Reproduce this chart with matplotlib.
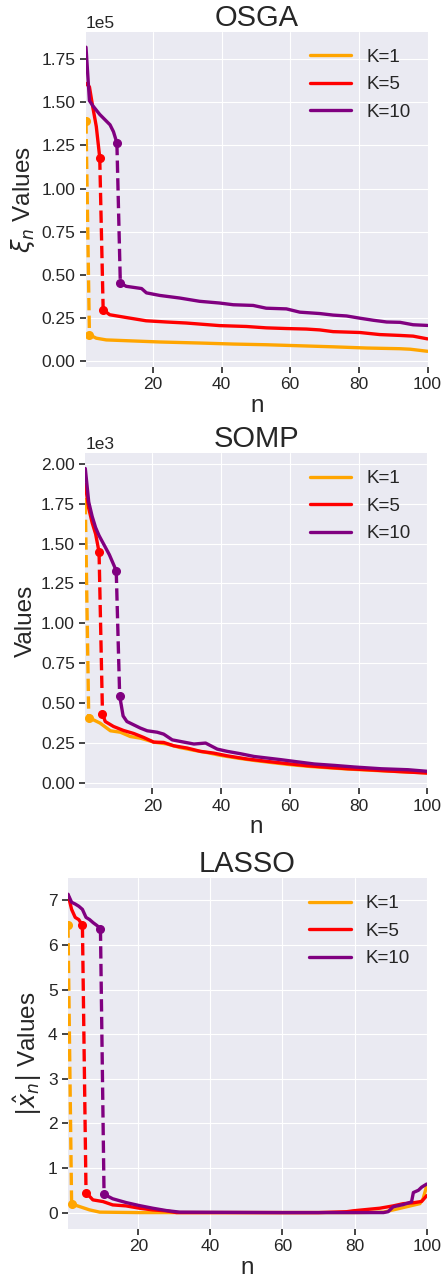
import matplotlib
matplotlib.use('Agg')
import matplotlib.pyplot as plt

plt.style.use('seaborn-v0_8-darkgrid')
plt.rcParams['font.family'] = ['Liberation Sans', 'DejaVu Sans']
plt.rcParams['xtick.bottom'] = True
plt.rcParams['ytick.left'] = True
plt.rcParams['xtick.major.size'] = 4
plt.rcParams['ytick.major.size'] = 4
plt.rcParams['xtick.major.width'] = 1.2
plt.rcParams['ytick.major.width'] = 1.2
plt.rcParams['xtick.color'] = '.15'
plt.rcParams['ytick.color'] = '.15'

labels = ['K=1', 'K=5', 'K=10']
colors = ['orange', 'red', 'purple']
ks = [1, 5, 10]

# OSGA (units of 1e5)
osga_k1_head = [1.39]
osga_k1_tail_x = [1.5, 3.5, 6.4, 14.2, 22, 33.6, 43.4, 53, 62.8, 72.5, 82.2, 92, 95, 100]
osga_k1_tail_y = [0.152, 0.132, 0.122, 0.116, 0.110, 0.104, 0.098, 0.094, 0.088, 0.082,
                  0.075, 0.071, 0.068, 0.056]
osga_k5_head = [1.61, 1.59, 1.47, 1.36, 1.18]
osga_k5_tail_x = [5.5, 7.4, 12.2, 18, 23.9, 29.7, 33.6, 39.4, 47.2, 53, 58.9, 64.7, 68.6,
                  72.5, 80.3, 86.1, 92, 95.8, 100]
osga_k5_tail_y = [0.297, 0.268, 0.252, 0.233, 0.226, 0.220, 0.214, 0.205, 0.200, 0.192,
                  0.188, 0.185, 0.180, 0.170, 0.165, 0.153, 0.148, 0.144, 0.128]
osga_k10_head = [1.82, 1.51, 1.48, 1.455, 1.43, 1.41, 1.39, 1.37, 1.33, 1.265]
osga_k10_tail_x = [10.5, 12.2, 16.7, 18.1, 22, 27.8, 33.6, 39.4, 43.4, 49.2, 53, 58.9,
                   62.8, 68.6, 72.5, 76.4, 80.3, 84.2, 88.1, 92, 95.8, 100]
osga_k10_tail_y = [0.453, 0.433, 0.42, 0.395, 0.38, 0.365, 0.346, 0.336, 0.326, 0.322,
                   0.306, 0.302, 0.283, 0.275, 0.266, 0.261, 0.248, 0.236, 0.226, 0.224,
                   0.21, 0.206]

# SOMP (units of 1e3)
somp_k1_head = [1.76]
somp_k1_tail_x = [1.5, 4.8, 7.8, 10.7, 13.6, 16.5, 20.4, 24.3, 28, 32, 36, 40, 45, 50,
                  55, 60, 66, 72, 78, 85, 92, 100]
somp_k1_tail_y = [0.41, 0.375, 0.327, 0.318, 0.291, 0.281, 0.256, 0.244, 0.222, 0.205,
                  0.19, 0.172, 0.155, 0.14, 0.127, 0.115, 0.103, 0.094, 0.086, 0.078,
                  0.071, 0.063]
somp_k5_head = [1.87, 1.72, 1.63, 1.56, 1.447]
somp_k5_tail_x = [5.5, 6.3, 8.7, 11.6, 14.6, 17.5, 20.4, 23.3, 26.2, 30.1, 34, 37.9,
                  41.8, 47.6, 53.5, 59.3, 65.1, 71, 76.8, 82.6, 90.4, 100]
somp_k5_tail_y = [0.433, 0.385, 0.354, 0.329, 0.31, 0.285, 0.256, 0.254, 0.233, 0.219,
                  0.198, 0.187, 0.17, 0.15, 0.135, 0.121, 0.108, 0.098, 0.089, 0.083,
                  0.073, 0.062]
somp_k10_head = [1.97, 1.76, 1.67, 1.60, 1.55, 1.51, 1.47, 1.43, 1.38, 1.33]
somp_k10_tail_x = [10.5, 11.5, 12.6, 14.6, 16.5, 18.5, 21.4, 23.3, 25.8, 28.2, 32.1,
                   35.5, 38.9, 41.8, 45.7, 49.6, 53.5, 57.4, 61.3, 67.1, 73, 78.8, 86.6,
                   94.4, 100]
somp_k10_tail_y = [0.546, 0.42, 0.385, 0.364, 0.344, 0.327, 0.318, 0.306, 0.27, 0.26,
                   0.244, 0.25, 0.212, 0.198, 0.183, 0.166, 0.156, 0.146, 0.135, 0.119,
                   0.11, 0.1, 0.089, 0.083, 0.073]

# LASSO
lasso_k1_head = [6.44]
lasso_k1_tail_x = [1.5, 3.7, 6.5, 9.3, 20, 40, 60, 80, 88, 90.7, 94.4, 98.1, 99, 100]
lasso_k1_tail_y = [0.195, 0.135, 0.06, 0.01, 0, 0, 0, 0, 0.01, 0.06, 0.13, 0.2, 0.31, 0.6]
lasso_k5_head = [7.13, 6.80, 6.62, 6.57, 6.44]
lasso_k5_tail_x = [5.5, 7.4, 10.2, 12.9, 16.6, 20.3, 24, 27.8, 30.6, 50, 70, 77.8, 79.6,
                   87, 90.7, 93.5, 96.3, 98.6, 100]
lasso_k5_tail_y = [0.45, 0.285, 0.247, 0.172, 0.15, 0.098, 0.06, 0.038, 0.0, 0, 0, 0.02,
                   0.04, 0.098, 0.15, 0.2, 0.22, 0.25, 0.38]
lasso_k10_head = [7.14, 6.96, 6.92, 6.87, 6.80, 6.62, 6.57, 6.50, 6.44, 6.37]
lasso_k10_tail_x = [10.5, 12.9, 16.6, 20.3, 24, 27.8, 31.5, 60, 88, 89.3, 90.7, 93.5,
                    95.8, 96.3, 97.7, 98.6, 100]
lasso_k10_tail_y = [0.41, 0.31, 0.225, 0.157, 0.098, 0.045, 0.01, 0, 0, 0.02, 0.13, 0.18,
                    0.24, 0.45, 0.5, 0.57, 0.64]

panels = [
    ('OSGA', r'$\xi_n$ Values', 1e5,
     [(osga_k1_head, osga_k1_tail_x, osga_k1_tail_y),
      (osga_k5_head, osga_k5_tail_x, osga_k5_tail_y),
      (osga_k10_head, osga_k10_tail_x, osga_k10_tail_y)]),
    ('SOMP', 'Values', 1e3,
     [(somp_k1_head, somp_k1_tail_x, somp_k1_tail_y),
      (somp_k5_head, somp_k5_tail_x, somp_k5_tail_y),
      (somp_k10_head, somp_k10_tail_x, somp_k10_tail_y)]),
    ('LASSO', r'$|\hat{x}_n|$ Values', 1,
     [(lasso_k1_head, lasso_k1_tail_x, lasso_k1_tail_y),
      (lasso_k5_head, lasso_k5_tail_x, lasso_k5_tail_y),
      (lasso_k10_head, lasso_k10_tail_x, lasso_k10_tail_y)]),
]

# axes boxes in pixels: left, right, top, bottom
boxes = [(86, 427.5, 32, 366.5), (85.3, 427.3, 453.3, 788.3), (68, 426.7, 878.3, 1228.5)]

W, H = 448, 1284
fig = plt.figure(figsize=(W / 100, H / 100), dpi=100)

for (title, ylabel, scale, series), (l, r, t, b) in zip(panels, boxes):
    ax = fig.add_axes([l / W, 1 - b / H, (r - l) / W, (b - t) / H])
    for (head, tx, ty), k, c, lab in zip(series, ks, colors, labels):
        hx = [i + 0.5 for i in range(k)]
        hy = [v * scale for v in head]
        ty_s = [v * scale for v in ty]
        ax.plot(hx, hy, color=c, lw=2.4, label=lab)
        ax.plot([hx[-1], tx[0]], [hy[-1], ty_s[0]], '--o', color=c, lw=2.4, ms=5.5)
        ax.plot(tx, ty_s, color=c, lw=2.4)
    ax.set_xlim(0.5, 100)
    ax.set_xticks([20, 40, 60, 80, 100])
    if scale != 1:
        ax.ticklabel_format(axis='y', style='sci', scilimits=(0, 0))
        ax.yaxis.get_offset_text().set_fontsize(12.5)
    ax.tick_params(labelsize=12.5)
    ax.set_title(title, fontsize=21, pad=3, color='.15')
    ax.set_xlabel('n', fontsize=17.5, labelpad=2, color='.15')
    ax.set_ylabel(ylabel, fontsize=17.5, labelpad=3, color='.15')
    ax.legend(fontsize=13.5, frameon=False, loc='upper right', handlelength=2.2,
              labelspacing=0.55)

fig.savefig('out.png', dpi=100)
